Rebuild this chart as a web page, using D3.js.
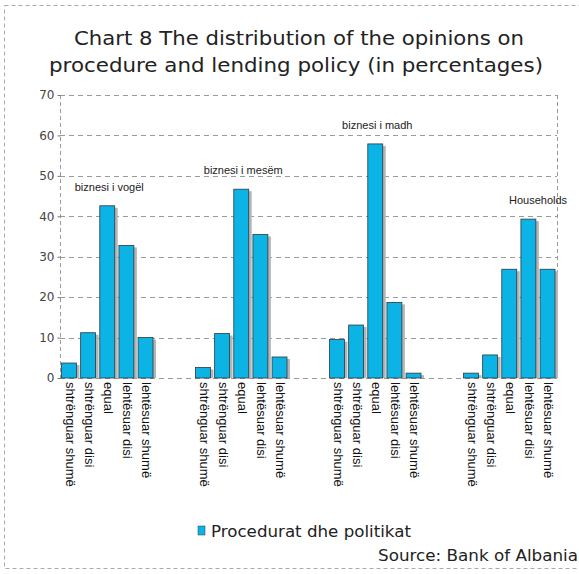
<!DOCTYPE html>
<html>
<head>
<meta charset="utf-8">
<script src="https://cdn.jsdelivr.net/npm/d3@7"></script>
<style>
  body { margin: 0; background: #fff; }
  text { font-family: "Liberation Sans", Arial, sans-serif; }
</style>
</head>
<body>
<div id="chart"></div>
<script>
const groups = ['biznesi i vogël', 'biznesi i mesëm', 'biznesi i madh', 'Households'];
const categories = ['shtrënguar shumë', 'shtrënguar disi', 'equal', 'lehtësuar disi', 'lehtësuar shumë'];
const vogel = [3.7, 11.2, 42.6, 32.8, 10.0];
const mesem = [2.6, 11.0, 46.7, 35.5, 5.2];
const madh = [9.5, 13.1, 57.9, 18.7, 1.2];
const households = [1.2, 5.7, 26.9, 39.3, 26.9];
const y_ticks = [0, 10, 20, 30, 40, 50, 60, 70];
const series_name = 'Procedurat dhe politikat';

const bar_color = '#0cb4e6';
const grid_color = '#9a9a9a';
const W = 579, H = 574;

const all_values = [vogel, mesem, madh, households];

const svg = d3.select('#chart').append('svg')
  .attr('width', W)
  .attr('height', H);

// outer dashed frame
svg.append('rect')
  .attr('x', 4.5).attr('y', 5.5)
  .attr('width', W + 10).attr('height', 563)
  .attr('fill', 'none')
  .attr('stroke', '#aaa')
  .attr('stroke-dasharray', '4,3');

// title
const title = svg.append('text')
  .attr('text-anchor', 'middle')
  .attr('fill', '#222')
  .style('font-family', '"DejaVu Sans", sans-serif')
  .style('font-size', '20px');
title.append('tspan').attr('x', 299).attr('y', 45)
  .attr('textLength', 450).attr('lengthAdjust', 'spacingAndGlyphs')
  .text('Chart 8 The distribution of the opinions on');
title.append('tspan').attr('x', 296).attr('y', 72)
  .attr('textLength', 494).attr('lengthAdjust', 'spacingAndGlyphs')
  .text('procedure and lending policy (in percentages)');

const y = d3.scaleLinear().domain([0, 70]).range([378, 95]);

// 26 slots: 5 bars per group, 2 empty slots between groups
const slot_ids = d3.range(26);
const x = d3.scaleBand().domain(slot_ids).range([61.5, 555]).paddingInner(0.22).paddingOuter(0);
const slot_of = (g, i) => g * 7 + i;

const plot_left = 60, plot_right = 557;

// grid lines
svg.append('g').selectAll('line')
  .data(y_ticks)
  .enter().append('line')
  .attr('x1', plot_left).attr('x2', plot_right)
  .attr('y1', d => Math.round(y(d)) + 0.5)
  .attr('y2', d => Math.round(y(d)) + 0.5)
  .attr('stroke', grid_color)
  .attr('stroke-dasharray', '5,4');

// left and right dashed verticals
[plot_left, plot_right].forEach(px => {
  svg.append('line')
    .attr('x1', px + 0.5).attr('x2', px + 0.5)
    .attr('y1', y(70)).attr('y2', y(0))
    .attr('stroke', grid_color)
    .attr('stroke-dasharray', '4,3');
});

// y axis
const y_ax = d3.axisLeft(y).tickValues(y_ticks).tickSize(3).tickPadding(3);
const yg = svg.append('g')
  .attr('transform', 'translate(' + (plot_left + 0.5) + ',0)')
  .call(y_ax);
yg.select('.domain').remove();
yg.selectAll('.tick line').attr('stroke', '#777');
yg.selectAll('.tick text')
  .attr('fill', '#444')
  .style('font-size', '12px')
  .style('font-family', '"DejaVu Sans", sans-serif');

// flat data
let bar_data = [];
all_values.forEach((vals, g) => {
  vals.forEach((v, i) => {
    bar_data.push({group: g, cat: i, value: v, slot: slot_of(g, i)});
  });
});

// bar shadows
svg.append('g').selectAll('rect')
  .data(bar_data)
  .enter().append('rect')
  .attr('x', d => x(d.slot) + 3)
  .attr('y', d => y(d.value) + 2)
  .attr('width', x.bandwidth())
  .attr('height', d => y(0) - y(d.value) - 2)
  .attr('fill', '#b5b5b5');

// bars
svg.append('g').selectAll('rect')
  .data(bar_data)
  .enter().append('rect')
  .attr('x', d => x(d.slot))
  .attr('y', d => y(d.value))
  .attr('width', x.bandwidth())
  .attr('height', d => y(0) - y(d.value))
  .attr('fill', bar_color)
  .attr('stroke', '#2b3a40')
  .attr('stroke-width', 0.8);

// category labels (rotated)
svg.append('g').selectAll('text')
  .data(bar_data)
  .enter().append('text')
  .attr('transform', d => 'translate(' + (x(d.slot) + x.bandwidth() / 2) + ',' + (y(0) + 4) + ') rotate(90)')
  .attr('dominant-baseline', 'middle')
  .attr('fill', '#111')
  .style('font-size', '13px')
  .text(d => categories[d.cat]);

// group labels above the tallest bar
const label_slot = [2, 2, 2, 3.4];
svg.append('g').selectAll('text')
  .data(groups)
  .enter().append('text')
  .attr('x', (d, g) => x(slot_of(g, 0)) + x.step() * label_slot[g] + x.bandwidth() / 2 + 2)
  .attr('y', (d, g) => y(d3.max(all_values[g])) - 15)
  .attr('text-anchor', 'middle')
  .attr('fill', '#222')
  .style('font-size', '11px')
  .text(d => d);

// legend
svg.append('rect')
  .attr('x', 198).attr('y', 526)
  .attr('width', 7).attr('height', 9)
  .attr('fill', bar_color)
  .attr('stroke', '#2b3a40')
  .attr('stroke-width', 0.5);
svg.append('text')
  .attr('x', 211).attr('y', 537)
  .attr('fill', '#222')
  .attr('textLength', 200).attr('lengthAdjust', 'spacingAndGlyphs')
  .style('font-family', '"DejaVu Sans", sans-serif')
  .style('font-size', '15px')
  .text(series_name);

// source
svg.append('text')
  .attr('x', 378).attr('y', 561)
  .attr('fill', '#222')
  .attr('textLength', 200).attr('lengthAdjust', 'spacingAndGlyphs')
  .style('font-family', '"DejaVu Sans", sans-serif')
  .style('font-size', '15px')
  .text('Source: Bank of Albania');
</script>
</body>
</html>
